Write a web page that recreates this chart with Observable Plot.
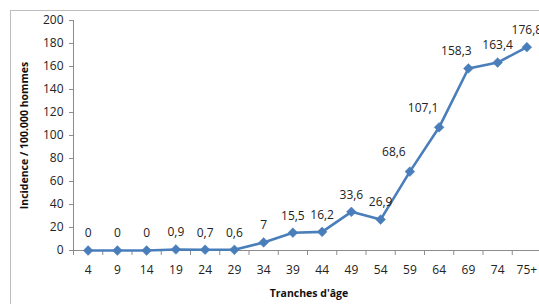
<!DOCTYPE html>
<html>
<head>
<meta charset="utf-8">
<script src="https://cdn.jsdelivr.net/npm/d3@7"></script>
<script src="https://cdn.jsdelivr.net/npm/@observablehq/plot@0.6"></script>
<style>
  html, body { margin: 0; padding: 0; overflow: hidden; background: #fff; }
  #wrap { position: relative; width: 539px; height: 304px; overflow: hidden; }
  #frame { position: absolute; left: 10px; top: 10px; width: 700px; height: 500px; border: 1px solid #bdbdbd; }
  #chart { position: absolute; left: 0; top: 0; }
</style>
</head>
<body>
<div id="wrap"><div id="frame"></div><div id="chart"></div></div>
<script>
const ageGroups = ["4","9","14","19","24","29","34","39","44","49","54","59","64","69","74","75+"];
const incidence = [0,0,0,0.9,0.7,0.6,7,15.5,16.2,33.6,26.9,68.6,107.1,158.3,163.4,176.8];
const yTicks = [0,20,40,60,80,100,120,140,160,180,200];

const data = ageGroups.map((g, i) => ({g, i, pos: i + 0.5, v: incidence[i]}));
const fmt = v => String(v).replace(".", ",");
// labels nudged left in the reference (steep segment)
const labelNudge = {"59": -16, "64": -16, "69": -12};

const blue = "#4a7ebb";
const axisGray = "#8c8c8c";
const font = "'Open Sans', sans-serif";

const plot = Plot.plot({
  width: 539,
  height: 304,
  marginTop: 20,
  marginBottom: 54,
  marginLeft: 73,
  marginRight: 0,
  style: {background: "transparent", fontFamily: font, fontSize: "12px", color: "#222"},
  x: {domain: [0, 16], range: [73, 541]},
  y: {domain: [0, 200]},
  marks: [
    Plot.ruleX([0], {stroke: axisGray, strokeWidth: 1}),
    Plot.ruleY([0], {stroke: axisGray, strokeWidth: 1}),
    Plot.axisY({ticks: yTicks, tickSize: 4, tickPadding: 6, stroke: axisGray, fill: "#222", label: null, fontSize: 12}),
    Plot.axisX({ticks: d3.range(0, 17), tickSize: 5, tickFormat: () => "", stroke: axisGray, label: null}),
    Plot.axisX({ticks: data.map(d => d.pos), tickSize: 0, tickPadding: 15, tickFormat: p => ageGroups[Math.floor(p)], fill: "#222", label: null, fontSize: 12}),
    Plot.line(data, {x: "pos", y: "v", stroke: blue, strokeWidth: 2.6}),
    Plot.dot(data, {x: "pos", y: "v", symbol: "diamond2", r: 4.4, fill: blue, stroke: blue, strokeWidth: 0.5}),
    Plot.text(data.filter(d => !(d.g in labelNudge)), {x: "pos", y: "v", text: d => fmt(d.v), dy: -17, fill: "#222", fontSize: 12}),
    Plot.text(data.filter(d => d.g in labelNudge && d.g !== "69"), {x: "pos", y: "v", text: d => fmt(d.v), dy: -19, dx: -16, fill: "#222", fontSize: 12}),
    Plot.text(data.filter(d => d.g === "69"), {x: "pos", y: "v", text: d => fmt(d.v), dy: -17, dx: -12, fill: "#222", fontSize: 12}),
    Plot.text(["Incidence / 100.000 hommes"], {frameAnchor: "left", textAnchor: "middle", dx: -49, rotate: -90, fontWeight: "bold", fontSize: 10.5, fill: "#111"}),
    Plot.text(["Tranches d'âge"], {x: 8.05, frameAnchor: "bottom", dy: 46, fontWeight: "bold", fontSize: 10.5, fill: "#111"})
  ]
});
document.getElementById("chart").appendChild(plot);
</script>
</body>
</html>
